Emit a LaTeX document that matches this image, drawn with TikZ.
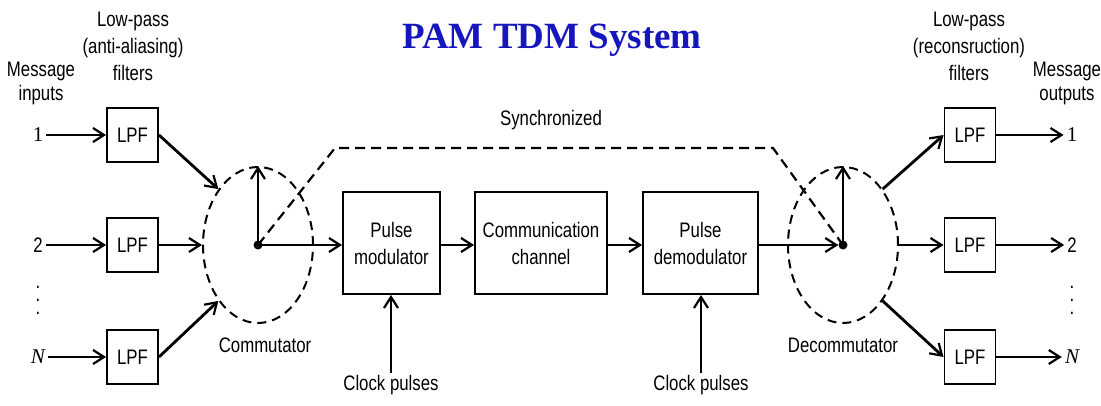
\documentclass[tikz,border=0pt]{standalone}
\usepackage{fontspec}
\setmainfont{Liberation Sans}[FakeStretch=0.8]
\newfontfamily\titlefont{Liberation Serif}
\newfontfamily\numfont{Liberation Serif}
\usetikzlibrary{arrows.meta,shapes.geometric}
\definecolor{titleblue}{RGB}{22,22,190}
\begin{document}
\begin{tikzpicture}[x=1pt,y=-1pt,
  font=\fontsize{21}{27}\selectfont,
  box/.style={draw, line width=1.9pt, inner sep=0pt, align=center},
  lpf/.style={box, minimum width=51pt, minimum height=54pt},
  blk/.style={box, minimum height=102pt},
  arr/.style={-{Straight Barb[length=11pt,width=14pt,line width=2.2pt]}, line width=2.8pt},
  ring/.style={draw, ellipse, line width=2pt, dash pattern=on 9pt off 6pt, minimum width=110pt, minimum height=156pt, inner sep=0pt},
  sync/.style={line width=2.2pt, dash pattern=on 10pt off 6pt},
  dot/.style={circle, fill, inner sep=0pt, minimum size=9pt},
  lbl/.style={align=center, inner sep=0pt},
  io/.style={inner sep=3pt},
  vdot/.style={inner sep=0pt, font=\fontsize{21}{21}\selectfont}]
\useasboundingbox (0,0) rectangle (1101,405);
% title
\node[inner sep=0pt, text=titleblue, font=\titlefont\bfseries\fontsize{37}{40}\selectfont] (title) at (552,40) {PAM TDM System};
% labels
\node[lbl, anchor=north] (lpin) at (133,12) {Low-pass\\(anti-aliasing)\\filters};
\node[lbl, anchor=north] (min) at (41,62) {Message\\[-3pt]inputs};
\node[lbl, anchor=north] (lpout) at (969,12) {Low-pass\\(reconsruction)\\filters};
\node[lbl, anchor=north] (mout) at (1067,62) {Message\\[-3pt]outputs};
\node[lbl] (synclbl) at (551,120) {Synchronized};
\node[lbl] (comlbl) at (265,345) {Commutator};
\node[lbl] (declbl) at (843,345) {Decommutator};
% filters
\node[lpf] (l1) at (132.5,135) {LPF};
\node[lpf] (l2) at (132.5,245) {LPF};
\node[lpf] (l3) at (132.5,357) {LPF};
\node[lpf] (r1) at (970,135) {LPF};
\node[lpf] (r2) at (970,245) {LPF};
\node[lpf] (r3) at (970,357) {LPF};
% blocks
\node[blk, minimum width=97pt] (pm) at (391.5,243) {Pulse\\modulator};
\node[blk, minimum width=132pt] (ch) at (541,243) {Communication\\channel};
\node[blk, minimum width=115pt] (pd) at (700.5,243) {Pulse\\demodulator};
% commutators
\node[ring] (com) at (258,245) {};
\node[ring] (dec) at (843,245) {};
\node[dot] (cd) at (258,245) {};
\node[dot] (dd) at (843,245) {};
% inputs and outputs
\node[io] (i1) at (38,135) {\numfont 1};
\node[io] (i2) at (38,245) {2};
\node[io] (iN) at (38,357) {\numfont\itshape N};
\node[vdot] (id1) at (38,287) {.};
\node[vdot] (id2) at (38,300) {.};
\node[vdot] (id3) at (38,313) {.};
\node[io] (o1) at (1072,135) {\numfont 1};
\node[io] (o2) at (1072,245) {2};
\node[io] (oN) at (1072,357) {\numfont\itshape N};
\node[vdot] (od1) at (1072,287) {.};
\node[vdot] (od2) at (1072,300) {.};
\node[vdot] (od3) at (1072,313) {.};
% clock pulses
\node[lbl, anchor=north] (c1) at (391,375) {Clock pulses};
\node[lbl, anchor=north] (c2) at (701,375) {Clock pulses};
% connectors
\draw[arr] (i1) -- (l1);
\draw[arr] (i2) -- (l2);
\draw[arr] (iN) -- (l3);
\draw[arr] (l1.east) -- (com.north west);
\draw[arr] (l2.east) -- (com.west);
\draw[arr] (l3.east) -- (com.south west);
\draw[arr] (cd.center) -- (com.north);
\draw[arr] (cd.center) -- (cd -| pm.west);
\draw[arr] (pm.east |- cd) -- (ch.west |- cd);
\draw[arr] (ch.east |- cd) -- (pd.west |- cd);
\draw[arr] (pd.east |- dd) -- (dd);
\draw[arr] (dd.center) -- (dec.north);
\draw[arr] (dec.north east) -- (r1.west);
\draw[arr] (dec.east) -- (r2.west);
\draw[arr] (dec.south east) -- (r3.west);
\draw[arr] (r1) -- (o1);
\draw[arr] (r2) -- (o2);
\draw[arr] (r3) -- (oN);
\draw[arr] ([yshift=2pt]c1.north) -- (c1.north |- pm.south);
\draw[arr] ([yshift=2pt]c2.north) -- (c2.north |- pd.south);
% synchronization
\coordinate (s1) at (335,148);
\coordinate (s2) at (773,148);
\draw[sync] (cd.center) -- (s1) -- (s2) -- (dd.center);
\end{tikzpicture}
\end{document}
